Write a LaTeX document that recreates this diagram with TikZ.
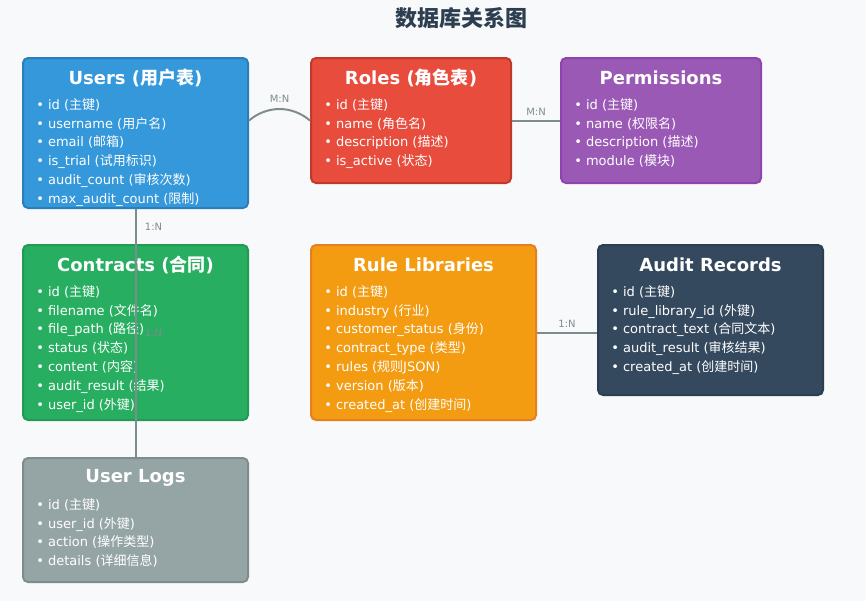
\documentclass[tikz,border=0pt]{standalone}
\usepackage{fontspec}
\setmainfont{DejaVu Sans}
\newfontfamily\cjkfont{Noto Sans CJK SC}
\newcommand{\zh}[1]{{\cjkfont #1}}
\usepackage{xcolor}
\definecolor{Paper}{HTML}{F8F9FA}
\definecolor{Ink}{HTML}{2C3E50}
\definecolor{Link}{HTML}{7F8C8D}
\definecolor{Blue}{HTML}{3498DB}
\definecolor{BlueDark}{HTML}{2980B9}
\definecolor{Red}{HTML}{E74C3C}
\definecolor{RedDark}{HTML}{C0392B}
\definecolor{Purple}{HTML}{9B59B6}
\definecolor{PurpleDark}{HTML}{8E44AD}
\definecolor{Green}{HTML}{27AE60}
\definecolor{GreenDark}{HTML}{229954}
\definecolor{Orange}{HTML}{F39C12}
\definecolor{OrangeDark}{HTML}{E67E22}
\definecolor{Slate}{HTML}{34495E}
\definecolor{SlateDark}{HTML}{2C3E50}
\definecolor{Grey}{HTML}{95A5A6}
\definecolor{GreyDark}{HTML}{7F8C8D}
\usetikzlibrary{fit,calc}

\begin{document}
\begin{tikzpicture}[x=0.75pt,y=-0.75pt,
  table/.style={rounded corners=3.75pt,line width=1.5pt,inner sep=0pt},
  head/.style={text=white,font=\fontsize{13.5}{16}\selectfont\bfseries},
  rows/.style={text=white,align=left,inner sep=0pt,anchor=north west,font=\fontsize{9.75}{14.1}\selectfont},
  link/.style={draw=Link,line width=1.5pt},
  card/.style={text=Link,font=\fontsize{7.5}{9}\selectfont}]
\useasboundingbox[fill=Paper] (0,0) rectangle (866,601);
\node[text=Ink,font=\fontsize{16.5}{20}\selectfont\cjkfont\bfseries] (title) at (461,18) {数据库关系图};

% tables
\node[table,draw=BlueDark,fill=Blue,fit={(23,58) (248,208)}] (users) {};
\node[head] (users-h) at ($(users.north)+(0,21)$) {Users (\zh{用户表})};
\node[rows] (users-r) at ($(users.north west)+(14,41)$) {\textbullet\ id (\zh{主键})\\\textbullet\ username (\zh{用户名})\\\textbullet\ email (\zh{邮箱})\\\textbullet\ is\_trial (\zh{试用标识})\\\textbullet\ audit\_count (\zh{审核次数})\\\textbullet\ max\_audit\_count (\zh{限制})};

\node[table,draw=RedDark,fill=Red,fit={(311,58) (511,183)}] (roles) {};
\node[head] (roles-h) at ($(roles.north)+(0,21)$) {Roles (\zh{角色表})};
\node[rows] (roles-r) at ($(roles.north west)+(14,41)$) {\textbullet\ id (\zh{主键})\\\textbullet\ name (\zh{角色名})\\\textbullet\ description (\zh{描述})\\\textbullet\ is\_active (\zh{状态})};

\node[table,draw=PurpleDark,fill=Purple,fit={(561,58) (761,183)}] (perms) {};
\node[head] (perms-h) at ($(perms.north)+(0,21)$) {Permissions};
\node[rows] (perms-r) at ($(perms.north west)+(14,41)$) {\textbullet\ id (\zh{主键})\\\textbullet\ name (\zh{权限名})\\\textbullet\ description (\zh{描述})\\\textbullet\ module (\zh{模块})};

\node[table,draw=GreenDark,fill=Green,fit={(23,245) (248,420)}] (contracts) {};
\node[head] (contracts-h) at ($(contracts.north)+(0,21)$) {Contracts (\zh{合同})};
\node[rows] (contracts-r) at ($(contracts.north west)+(14,41)$) {\textbullet\ id (\zh{主键})\\\textbullet\ filename (\zh{文件名})\\\textbullet\ file\_path (\zh{路径})\\\textbullet\ status (\zh{状态})\\\textbullet\ content (\zh{内容})\\\textbullet\ audit\_result (\zh{结果})\\\textbullet\ user\_id (\zh{外键})};

\node[table,draw=OrangeDark,fill=Orange,fit={(311,245) (536,420)}] (rules) {};
\node[head] (rules-h) at ($(rules.north)+(0,21)$) {Rule Libraries};
\node[rows] (rules-r) at ($(rules.north west)+(14,41)$) {\textbullet\ id (\zh{主键})\\\textbullet\ industry (\zh{行业})\\\textbullet\ customer\_status (\zh{身份})\\\textbullet\ contract\_type (\zh{类型})\\\textbullet\ rules (\zh{规则}JSON)\\\textbullet\ version (\zh{版本})\\\textbullet\ created\_at (\zh{创建时间})};

\node[table,draw=SlateDark,fill=Slate,fit={(598,245) (823,395)}] (audit) {};
\node[head] (audit-h) at ($(audit.north)+(0,21)$) {Audit Records};
\node[rows] (audit-r) at ($(audit.north west)+(14,41)$) {\textbullet\ id (\zh{主键})\\\textbullet\ rule\_library\_id (\zh{外键})\\\textbullet\ contract\_text (\zh{合同文本})\\\textbullet\ audit\_result (\zh{审核结果})\\\textbullet\ created\_at (\zh{创建时间})};

\node[table,draw=GreyDark,fill=Grey,fit={(23,458) (248,582)}] (logs) {};
\node[head] (logs-h) at ($(logs.north)+(0,21)$) {User Logs};
\node[rows] (logs-r) at ($(logs.north west)+(14,41)$) {\textbullet\ id (\zh{主键})\\\textbullet\ user\_id (\zh{外键})\\\textbullet\ action (\zh{操作类型})\\\textbullet\ details (\zh{详细信息})};

% relations
\draw[link] (users.east |- roles.west) to[bend left=40] node[card,above=1pt]{M:N} (roles.west);
\draw[link] (roles) -- node[card,above]{M:N} (perms);
\draw[link] (users) -- node[card,right,xshift=3]{1:N} (contracts);
\draw[link] (users) -- node[card,right,xshift=3]{1:N} (logs);
\draw[link] (rules.east) -- node[card,above]{1:N} (audit.west |- rules.east);
\end{tikzpicture}
\end{document}
